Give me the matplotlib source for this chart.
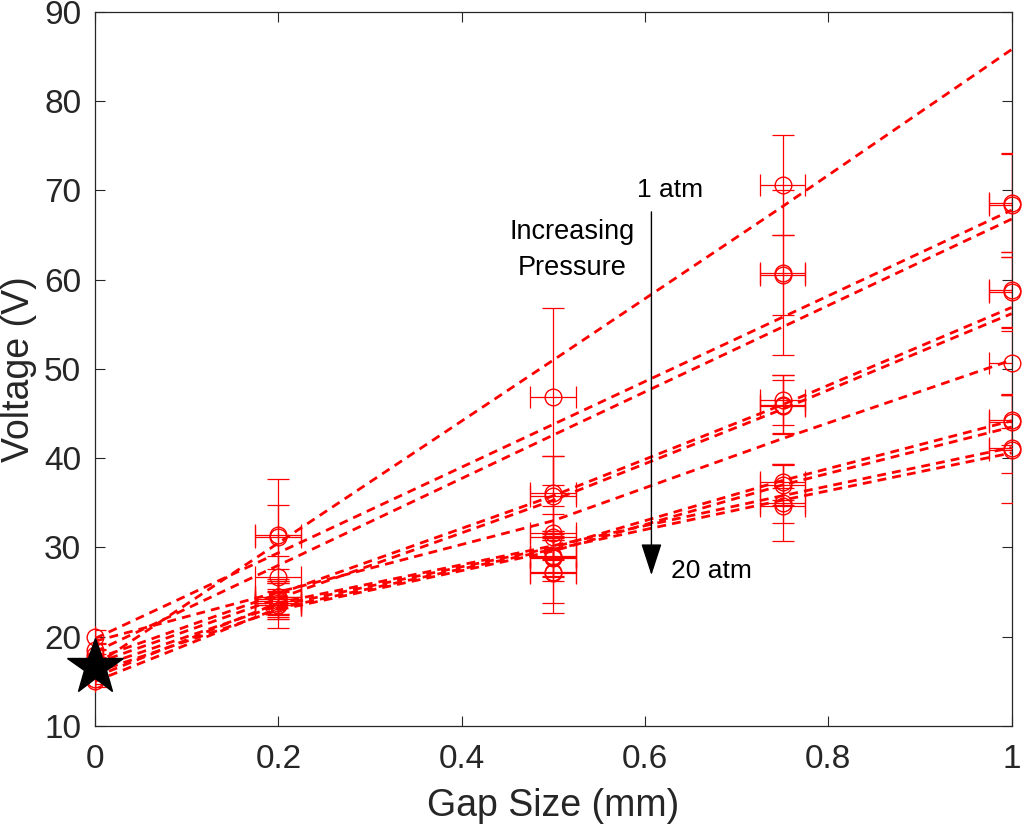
import matplotlib.pyplot as plt
import numpy as np

plt.rcParams['font.family'] = ['Liberation Sans', 'DejaVu Sans']

# gap sizes (mm)
gap = [0, 0.2, 0.5, 0.75, 1.0]

# measured breakdown voltages, one list per pressure (1 atm ... 20 atm)
v_p1 = [17.5, 31.4, 46.9, 70.6, np.nan]
v_p2 = [20.0, 31.2, 36.1, 60.8, 68.6]
v_p3 = [18.5, 26.7, 35.8, 60.5, 68.4]
v_p4 = [17.0, 24.5, 31.6, 46.5, 58.9]
v_p5 = [17.5, 24.2, 31.2, 46.0, 58.6]
v_p6 = [18.0, 24.0, 29.0, 45.8, 50.7]
v_p7 = [15.3, 23.8, 28.9, 37.3, 44.3]
v_p8 = [17.0, 23.5, 28.8, 37.0, 44.1]
v_p9 = [15.0, 24.4, 27.3, 35.0, 41.1]
v_p10 = [16.5, 23.6, 27.1, 34.7, 40.9]

# vertical error bars
e_p1 = [1.0, 6.3, 9.9, 5.6, np.nan]
e_p2 = [0.8, 3.6, 4.2, 9.2, 5.5]
e_p3 = [0.8, 2.3, 4.5, 4.5, 5.8]
e_p4 = [0.6, 2.0, 3.0, 2.8, 4.2]
e_p5 = [0.6, 1.8, 2.5, 3.3, 4.0]
e_p6 = [0.6, 2.0, 2.8, 3.0, 3.6]
e_p7 = [0.6, 1.6, 2.2, 2.0, 2.8]
e_p8 = [0.6, 1.5, 2.0, 2.2, 3.0]
e_p9 = [0.6, 1.8, 3.5, 4.3, 6.1]
e_p10 = [0.6, 2.6, 4.4, 2.0, 2.5]

# horizontal error bars (mm)
gap_err = [0, 0.025, 0.025, 0.025, 0.025]

# fitted curves, read at the gap sizes
f_p1 = [16.8, 30.5, 51.0, 68.2, 85.8]
f_p2 = [19.8, 29.4, 43.8, 55.8, 67.8]
f_p3 = [18.3, 28.0, 42.6, 54.7, 66.8]
f_p4 = [17.5, 24.8, 35.8, 46.0, 56.9]
f_p5 = [17.0, 24.3, 35.3, 45.5, 56.2]
f_p6 = [19.5, 25.0, 33.0, 42.2, 51.0]
f_p7 = [16.5, 23.5, 30.0, 37.5, 44.2]
f_p8 = [16.0, 23.0, 29.6, 37.0, 43.5]
f_p9 = [15.5, 23.8, 30.2, 35.8, 41.2]
f_p10 = [15.0, 23.2, 29.8, 35.3, 40.6]

star_gap = 0
star_v = 16.6

volts = [v_p1, v_p2, v_p3, v_p4, v_p5, v_p6, v_p7, v_p8, v_p9, v_p10]
errs = [e_p1, e_p2, e_p3, e_p4, e_p5, e_p6, e_p7, e_p8, e_p9, e_p10]
fits = [f_p1, f_p2, f_p3, f_p4, f_p5, f_p6, f_p7, f_p8, f_p9, f_p10]

fig = plt.figure(figsize=(10.25, 8.33), dpi=100)
ax = fig.add_axes([0.0927, 0.1285, 0.8943, 0.8571])

for v, e, f in zip(volts, errs, fits):
    ax.errorbar(gap, v, yerr=e, xerr=gap_err, fmt='none', ecolor='red',
                elinewidth=0.9, capsize=8, capthick=0.9, zorder=3)
    ax.plot(gap, v, 'o', color='red', mfc='none', ms=12, mew=1.0,
            zorder=3, clip_on=False)
    ax.plot(gap, f, color='red', lw=2.0, dashes=(3.2, 2.2), zorder=2)

ax.plot(star_gap, star_v, marker='*', color='black', ms=42, zorder=5, clip_on=False)

# increasing pressure arrow
ax.annotate('', xy=(0.607, 26.9), xytext=(0.607, 67.6),
            arrowprops=dict(arrowstyle='-|>,head_length=2.0,head_width=0.65',
                            color='black', lw=1.0, shrinkA=0, shrinkB=0))
ax.text(0.627, 70.1, '1 atm', fontsize=19, ha='center', va='center')
ax.text(0.628, 27.4, '20 atm', fontsize=19, ha='left', va='center')
ax.text(0.521, 63.3, 'Increasing\nPressure', fontsize=19.5, ha='center', va='center',
        linespacing=1.5)

ax.set_xlim(0, 1)
ax.set_ylim(10, 90)
ax.set_xticks([0, 0.2, 0.4, 0.6, 0.8, 1])
ax.set_xticklabels(['0', '0.2', '0.4', '0.6', '0.8', '1'])
ax.set_yticks(range(10, 91, 10))
ax.tick_params(direction='in', top=True, right=True, length=7, width=0.8,
               labelsize=24, colors='#262626')
ax.tick_params(axis='x', pad=13)
ax.tick_params(axis='y', pad=10)
for s in ax.spines.values():
    s.set_color('#262626')
    s.set_linewidth(0.9)
ax.set_xlabel('Gap Size (mm)', fontsize=27, color='#262626', labelpad=9)
ax.set_ylabel('Voltage (V)', fontsize=27, color='#262626', labelpad=5)

plt.savefig('out.png', dpi=100)
